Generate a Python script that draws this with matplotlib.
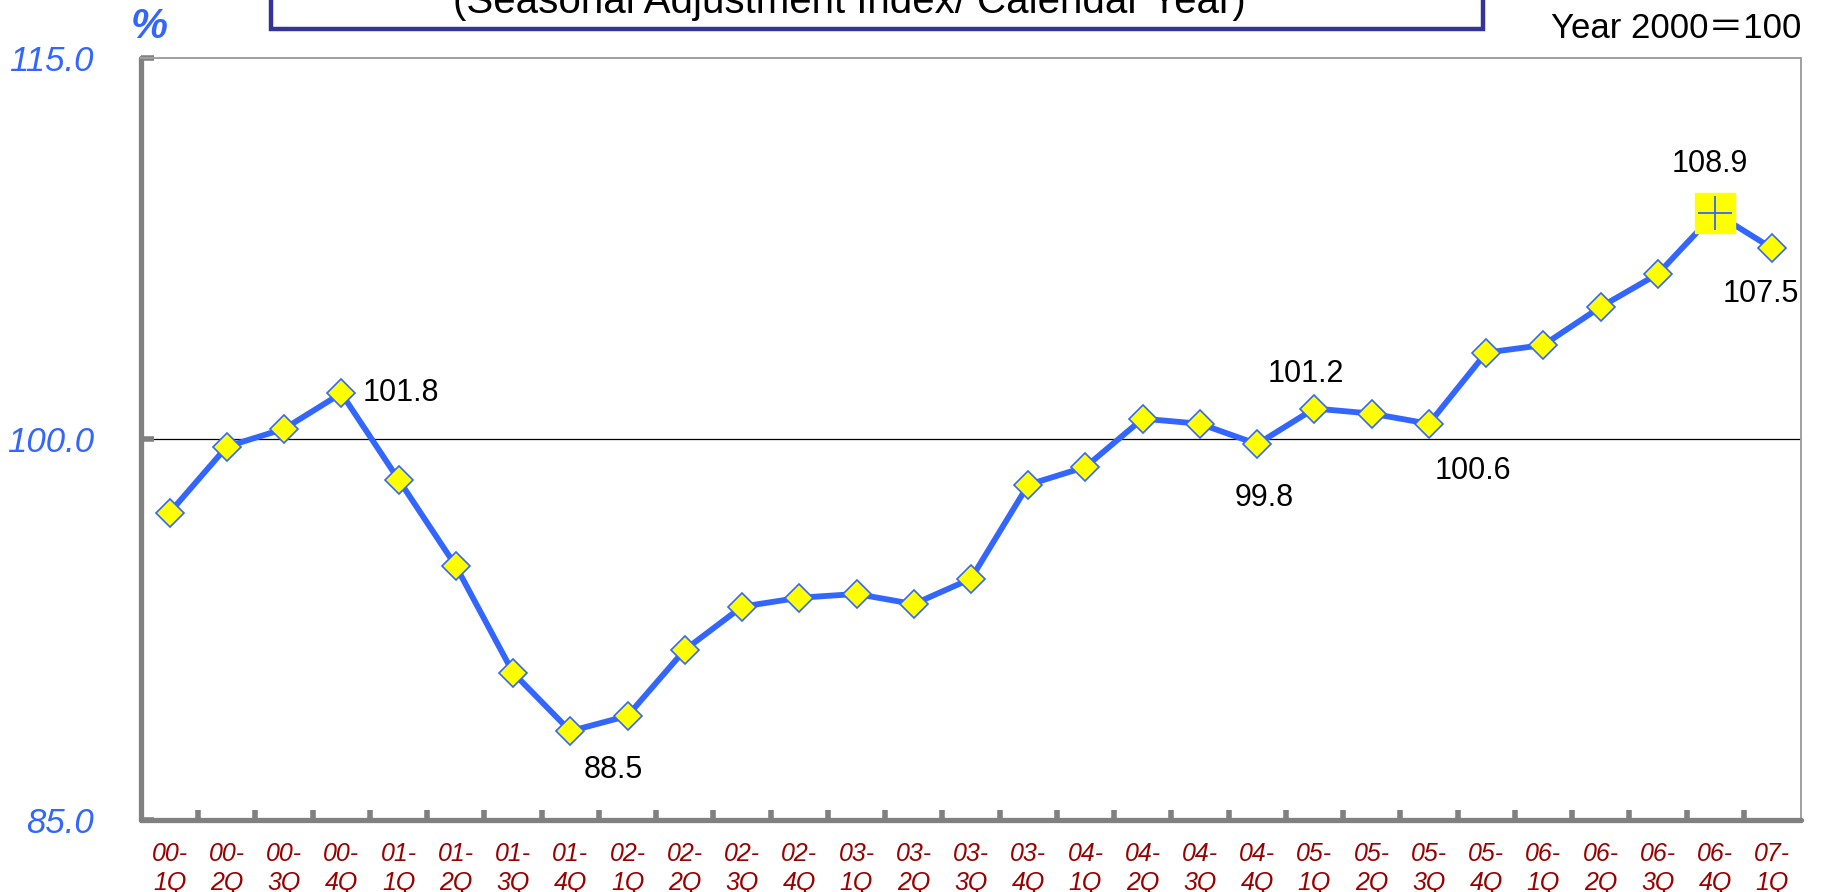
import numpy as np
import matplotlib
matplotlib.use("Agg")
import matplotlib.pyplot as plt
from matplotlib.patches import Rectangle

plt.rcParams['font.family'] = ['Liberation Sans', 'Noto Sans CJK JP', 'DejaVu Sans']

# quarters 2000-1Q .. 2007-1Q
quarters = ["00-\n1Q", "00-\n2Q", "00-\n3Q", "00-\n4Q",
            "01-\n1Q", "01-\n2Q", "01-\n3Q", "01-\n4Q",
            "02-\n1Q", "02-\n2Q", "02-\n3Q", "02-\n4Q",
            "03-\n1Q", "03-\n2Q", "03-\n3Q", "03-\n4Q",
            "04-\n1Q", "04-\n2Q", "04-\n3Q", "04-\n4Q",
            "05-\n1Q", "05-\n2Q", "05-\n3Q", "05-\n4Q",
            "06-\n1Q", "06-\n2Q", "06-\n3Q", "06-\n4Q",
            "07-\n1Q"]
index = [97.1, 99.7, 100.4, 101.8,
         98.4, 95.0, 90.8, 88.5,
         89.1, 91.7, 93.4, 93.75,
         93.9, 93.5, 94.5, 98.2,
         98.9, 100.8, 100.6, 99.8,
         101.2, 101.0, 100.6, 103.4,
         103.7, 105.2, 106.5, 108.9,
         107.5]
yticks = [85.0, 100.0, 115.0]

# which points get a value label, and offset (points) of the label
labelled = {3: (43, 0), 7: (31, -28), 19: (5, -39), 20: (-6, 25),
            22: (32, -34), 27: (-4, 35), 28: (-8, -33)}
peak = 27

blue = "#3366FF"
grey = "#808080"

fig = plt.figure(figsize=(18.24, 8.92), dpi=100)
ax = fig.add_axes([0.0773, 0.0807, 0.9101, 0.8543])

x = np.arange(len(index))
ax.axhline(100, color="black", lw=0.9, zorder=1)
ax.plot(x, index, color=blue, lw=4.2, zorder=2)
ax.plot(x, index, ls="none", marker="D", ms=14, mfc="yellow", mec=blue, mew=1.2, zorder=3)
ax.plot(x[peak], index[peak], ls="none", marker="s", ms=29, mfc="yellow", mec="yellow", zorder=4)
ax.plot(x[peak], index[peak], ls="none", marker="+", ms=25, mec=blue, mew=1.3, zorder=5)

for i, off in labelled.items():
    ax.annotate("%.1f" % index[i], (x[i], index[i]), xytext=off, textcoords="offset points",
                ha="center", va="center", fontsize=22, color="black")

ax.set_xlim(-0.5, len(index) - 0.5)
ax.set_ylim(85, 115)

ax.set_xticks(x)
ax.set_xticklabels(quarters, fontsize=18, fontstyle="italic", color="#990000", linespacing=1.25)
ax.set_xticks(np.arange(0.5, len(index) - 0.5, 1), minor=True)
ax.tick_params(axis="x", which="major", length=0, pad=16)
ax.tick_params(axis="x", which="minor", direction="in", length=7, width=4, color=grey)

ax.set_yticks(yticks)
ax.set_yticklabels(["%.1f" % v for v in yticks], fontsize=25, fontstyle="italic", color=blue)
ax.tick_params(axis="y", direction="in", length=9, width=4, color=grey, pad=34)

for s in ["left", "bottom"]:
    ax.spines[s].set_color(grey)
    ax.spines[s].set_linewidth(3.8)
    ax.spines[s].set_capstyle("round")
for s in ["top", "right"]:
    ax.spines[s].set_color("#A0A0A0")
    ax.spines[s].set_linewidth(1.4)

# title box, cut off by the top edge
fig.patches.append(Rectangle((0.1486, 0.9675), 0.6645, 0.06, transform=fig.transFigure,
                             facecolor="white", edgecolor="#333399", lw=3.2, zorder=0))
fig.text(0.4655, 1 - 13 / 892, "(Seasonal Adjustment Index/ Calendar Year)",
         ha="center", va="baseline", fontsize=29, color="black")

fig.text(0.0816, 1 - 27 / 892, "%", ha="center", va="center", fontsize=30,
         fontstyle="italic", fontweight="bold", color=blue)
fig.text(0.9874, 1 - 38 / 892, "Year 2000＝100", ha="right", va="baseline", fontsize=25,
         family=["Liberation Sans", "Noto Sans CJK JP"], color="black")

fig.savefig("out.png", dpi=100)
